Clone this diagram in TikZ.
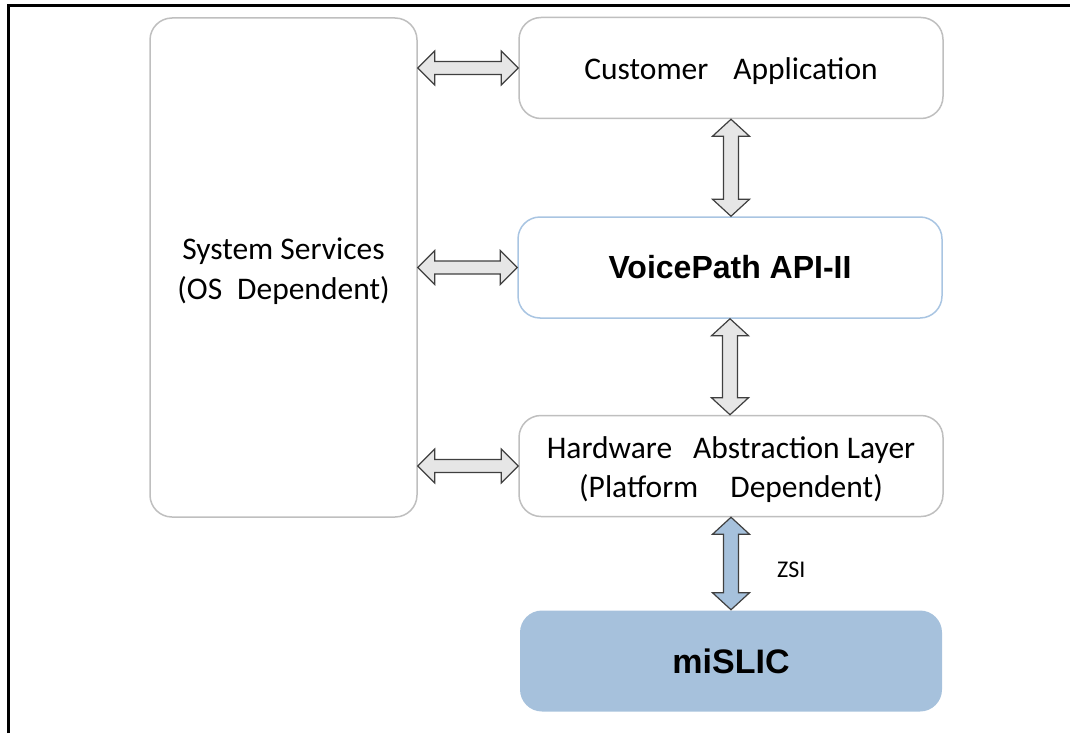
\documentclass[tikz,border=0pt]{standalone}
\usepackage{fontspec}
\setmainfont{Carlito}
\newfontfamily\arialf{Liberation Sans}
\usetikzlibrary{calc}
\definecolor{boxgrey}{HTML}{BFBFBF}
\definecolor{boxblue}{HTML}{A9C5E2}
\definecolor{slicblue}{HTML}{A6C1DC}
\definecolor{arrfill}{HTML}{E6E6E6}
\definecolor{arrline}{HTML}{3F3F3F}
\tikzset{
  layer/.style={draw=boxgrey, line width=1.5pt, rounded corners=22pt, fill=white,
    minimum width=424pt, minimum height=101pt, inner sep=0pt},
  txt/.style={align=center, inner sep=0pt, yshift=-3.5pt,
    font=\fontsize{31.5}{39.5}\selectfont},
  apibox/.style={layer, draw=boxblue},
  slicbox/.style={layer, draw=none, fill=slicblue, minimum width=422pt},
  boldtxt/.style={font=\arialf\bfseries\fontsize{32}{38}\selectfont},
  darrow/.style={draw=arrline, fill=arrfill, line width=1.2pt, line join=miter},
  zarrow/.style={darrow, fill=slicblue},
  frameline/.style={line width=3pt, draw=black}
}
\newcommand{\hdarrow}[3]{%
  \draw[#3] let \p1=(#1), \p2=(#2) in
    (\x1,\y1) -- (\x1+17pt,\y1+17pt) -- (\x1+17pt,\y1+6.5pt) -- (\x2-17pt,\y1+6.5pt)
    -- (\x2-17pt,\y1+17pt) -- (\x2,\y1) -- (\x2-17pt,\y1-17pt) -- (\x2-17pt,\y1-6.5pt)
    -- (\x1+17pt,\y1-6.5pt) -- (\x1+17pt,\y1-17pt) -- cycle;}
\newcommand{\vdarrow}[3]{%
  \draw[#3] let \p1=(#1), \p2=(#2) in
    (\x1,\y1) -- (\x1+18.5pt,\y1-17pt) -- (\x1+7.5pt,\y1-17pt) -- (\x1+7.5pt,\y2+17pt)
    -- (\x1+18.5pt,\y2+17pt) -- (\x1,\y2) -- (\x1-18.5pt,\y2+17pt) -- (\x1-7.5pt,\y2+17pt)
    -- (\x1-7.5pt,\y1-17pt) -- (\x1-18.5pt,\y1-17pt) -- cycle;}
\begin{document}
\begin{tikzpicture}[x=1pt,y=-1pt]
\useasboundingbox (0,0) rectangle (1070,733);
\coordinate (fbl) at (8,733);
\coordinate (ftl) at (8,6);
\coordinate (ftr) at (1070,6);
\draw[frameline] (fbl) -- (ftl) -- (ftr);

\node[layer, minimum width=267pt, minimum height=499pt,
  label={[txt]center:{System Services\\(OS\hspace{15pt}Dependent)}}] (sys) at (283.5,267.5) {};
\node[layer, label={[txt]center:{Customer\hspace{25pt}Application}}] (ca) at (731,68) {};
\node[apibox, boldtxt] (api) at (730,267.5) {VoicePath API-II};
\node[layer,
  label={[txt]center:{Hardware\hspace{21pt}Abstraction Layer\\(Platform\hspace{32pt}Dependent)}}] (hal) at (731,466) {};
\node[slicbox, boldtxt, font=\arialf\bfseries\fontsize{34}{40}\selectfont] (slic) at (731,661) {miSLIC};

\hdarrow{sys.east|-ca.west}{ca.west}{darrow}
\hdarrow{sys.east|-api.west}{api.west}{darrow}
\hdarrow{sys.east|-hal.west}{hal.west}{darrow}
\vdarrow{ca.south}{api.north}{darrow}
\vdarrow{api.south}{hal.north}{darrow}
\vdarrow{hal.south}{slic.north-|hal.south}{zarrow}
\node[font=\fontsize{24}{28}\selectfont, anchor=west, inner sep=0pt] (zsi) at (777,570) {ZSI};
\end{tikzpicture}
\end{document}
